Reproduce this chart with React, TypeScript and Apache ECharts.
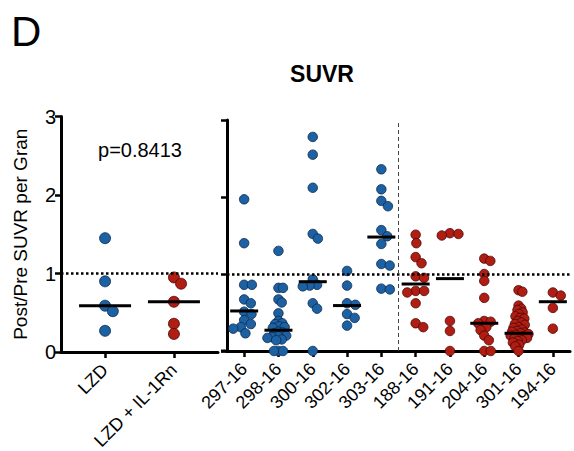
import React, { useEffect, useRef } from "react";
import * as echarts from "echarts";

// ---------- data ----------
const leftCategories = ["LZD", "LZD + IL-1Rn"];
const leftValues: number[][] = [
  [1.45, 0.9, 0.59, 0.52, 0.27],
  [0.95, 0.87, 0.64, 0.36, 0.23],
];
const leftMedians = [0.59, 0.64];

const rightCategories = [
  "297-16", "298-16", "300-16", "302-16", "303-16",
  "188-16", "191-16", "204-16", "301-16", "194-16",
];
const val297 = [1.97, 1.4, 0.86, 0.86, 0.67, 0.62, 0.51, 0.48, 0.4, 0.35, 0.31, 0.29, 0.23];
const val298 = [1.3, 0.82, 0.82, 0.67, 0.63, 0.49, 0.39, 0.36, 0.35, 0.32, 0.31, 0.3, 0.25, 0.24, 0.23, 0.2, 0.19, 0.18, 0.17, 0.15, 0.14, 0, 0, 0];
const val300 = [2.78, 2.55, 2.12, 1.52, 1.46, 0.93, 0.86, 0.85, 0.84, 0.62, 0.55, 0];
const val302 = [1.04, 0.85, 0.62, 0.6, 0.48, 0.43, 0.33];
const val303 = [2.36, 2.1, 1.95, 1.88, 1.57, 1.49, 1.39, 1.13, 1.11, 0.81, 0.8];
const val188 = [1.51, 1.4, 1.22, 1.14, 0.97, 0.95, 0.78, 0.78, 0.76, 0.62, 0.36, 0.31];
const val191 = [1.53, 1.52, 1.5, 0.39, 0.26, 0];
const val204 = [1.2, 1.17, 1.0, 0.91, 0.69, 0.39, 0.38, 0.36, 0.31, 0.27, 0.2, 0.14, 0, 0];
const val301 = [0.79, 0.77, 0.59, 0.55, 0.53, 0.5, 0.48, 0.45, 0.43, 0.42, 0.39, 0.37, 0.35, 0.34, 0.31, 0.3, 0.28, 0.26, 0.25, 0.24, 0.23, 0.22, 0.21, 0.2, 0.19, 0.18, 0.17, 0.16, 0.14, 0.13, 0.11, 0.08, 0.06, 0];
const val194 = [0.76, 0.72, 0.56, 0.29];
const rightValues = [val297, val298, val300, val302, val303, val188, val191, val204, val301, val194];
const rightMedians = [0.52, 0.27, 0.9, 0.59, 1.48, 0.87, 0.94, 0.36, 0.23, 0.64];
const rightGroupColor = ["blue", "blue", "blue", "blue", "blue", "red", "red", "red", "red", "red"];
const leftGroupColor = ["blue", "red"];

const yTicks = [0, 1, 2, 3];
const referenceLevel = 1;
const splitPosition = 4.5;
const pValueText = "p=0.8413";
const titleText = "SUVR";
const panelLetter = "D";
const yAxisTitle = "Post/Pre SUVR per Gran";

// ---------- styling / layout ----------
const FONT = "Liberation Sans, Arial, Helvetica, sans-serif";
const COLORS: Record<string, { fill: string; border: string }> = {
  blue: { fill: "#1d61a5", border: "#0b2848" },
  red: { fill: "#b01d12", border: "#4a0806" },
};
const LEFT_GRID = { left: 61, top: 116.5, width: 157, height: 235.5 };
const RIGHT_GRID = { left: 227, top: 120, width: 343, height: 231 };
const LEFT_X = { min: -0.64, max: 1.64 };
const RIGHT_X = { min: -0.5, max: 9.5 };

// beeswarm offsets (axis units) so dots do not pile on each other
function swarm(values: number[], pxPerY: number, pxPerX: number, maxHalf: number, startDist: number): number[] {
  let minDist = startDist;
  let result: number[] = [];
  while (minDist > 3) {
    const order = values.map((_, i) => i).sort((a, b) => values[b] - values[a]);
    const placed: { x: number; y: number }[] = [];
    const offs = new Array(values.length).fill(0);
    let widest = 0;
    for (const i of order) {
      const y = values[i] * pxPerY;
      const cands = [0];
      for (const p of placed) {
        const dy = Math.abs(p.y - y);
        if (dy < minDist) {
          const dx = Math.sqrt(minDist * minDist - dy * dy);
          cands.push(p.x + dx, p.x - dx);
        }
      }
      cands.sort((a, b) => Math.abs(a) - Math.abs(b));
      let chosen = 0;
      for (const c of cands) {
        if (placed.every((p) => Math.hypot(p.x - c, p.y - y) >= minDist - 1e-6)) {
          chosen = c;
          break;
        }
      }
      placed.push({ x: chosen, y });
      offs[i] = chosen / pxPerX;
      widest = Math.max(widest, Math.abs(chosen));
    }
    result = offs;
    if (widest <= maxHalf) break;
    minDist -= 0.4;
  }
  return result;
}

export default function App() {
  const ref = useRef<HTMLDivElement>(null);
  useEffect(() => {
    if (!ref.current) return;
    const chart = echarts.init(ref.current, undefined, { renderer: "svg" });

    const leftPxX = LEFT_GRID.width / (LEFT_X.max - LEFT_X.min);
    const rightPxX = RIGHT_GRID.width / (RIGHT_X.max - RIGHT_X.min);
    const leftPxY = LEFT_GRID.height / 3;
    const rightPxY = RIGHT_GRID.height / 3;

    const series: any[] = [];
    leftValues.forEach((vals, i) => {
      const offs = swarm(vals, leftPxY, leftPxX, 12, 9.5);
      const c = COLORS[leftGroupColor[i]];
      series.push({
        type: "scatter",
        xAxisIndex: 0,
        yAxisIndex: 0,
        symbolSize: 11,
        itemStyle: { color: c.fill, borderColor: c.border, borderWidth: 0.8, opacity: 1 },
        data: vals.map((v, k) => [i + offs[k], v]),
        z: 2,
      });
    });
    rightValues.forEach((vals, i) => {
      const offs = swarm(vals, rightPxY, rightPxX, 11, 8.5);
      const c = COLORS[rightGroupColor[i]];
      series.push({
        type: "scatter",
        xAxisIndex: 1,
        yAxisIndex: 1,
        symbolSize: 9.5,
        itemStyle: { color: c.fill, borderColor: c.border, borderWidth: 0.8, opacity: 1 },
        data: vals.map((v, k) => [i + offs[k], v]),
        z: 2,
      });
    });
    series.push({
      type: "scatter",
      xAxisIndex: 0,
      yAxisIndex: 0,
      symbol: "rect",
      symbolSize: [52, 3],
      itemStyle: { color: "#000", opacity: 1 },
      data: leftMedians.map((m, i) => [i, m]),
      z: 5,
      markLine: {
        silent: true,
        symbol: ["none", "none"],
        label: { show: false },
        lineStyle: { color: "#000", width: 2.5, type: [2.5, 2.5] },
        data: [{ yAxis: referenceLevel }],
      },
    });
    series.push({
      type: "scatter",
      xAxisIndex: 1,
      yAxisIndex: 1,
      symbol: "rect",
      symbolSize: [28, 3],
      itemStyle: { color: "#000", opacity: 1 },
      data: rightMedians.map((m, i) => [i, m]),
      z: 5,
      markLine: {
        silent: true,
        symbol: ["none", "none"],
        label: { show: false },
        data: [
          { yAxis: referenceLevel, lineStyle: { color: "#000", width: 2.5, type: [2.5, 2.5] } },
          { xAxis: splitPosition, lineStyle: { color: "#444", width: 1, type: [4, 3] } },
        ],
      },
    });

    const axisLineStyle = { color: "#000", width: 3 };
    const tickStyle = { color: "#000", width: 2.5 };
    const xLabel = {
      rotate: 45,
      fontSize: 18,
      color: "#000",
      fontFamily: FONT,
      margin: 15,
    };

    chart.setOption({
      animation: false,
      backgroundColor: "#fff",
      grid: [
        { ...LEFT_GRID, containLabel: false, outerBoundsMode: "none" },
        { ...RIGHT_GRID, containLabel: false, outerBoundsMode: "none" },
      ],
      xAxis: [
        {
          type: "value",
          gridIndex: 0,
          min: LEFT_X.min,
          max: LEFT_X.max,
          splitLine: { show: false },
          axisLine: { show: true, onZero: false, lineStyle: axisLineStyle },
          axisTick: { show: true, length: 6, lineStyle: tickStyle, customValues: leftCategories.map((_, i) => i) },
          axisLabel: {
            ...xLabel,
            customValues: leftCategories.map((_, i) => i),
            formatter: (v: number) => leftCategories[Math.round(v)] ?? "",
          },
        },
        {
          type: "value",
          gridIndex: 1,
          min: RIGHT_X.min,
          max: RIGHT_X.max,
          splitLine: { show: false },
          axisLine: { show: true, onZero: false, lineStyle: axisLineStyle },
          axisTick: { show: true, length: 6, lineStyle: tickStyle, customValues: rightCategories.map((_, i) => i) },
          axisLabel: {
            ...xLabel,
            customValues: rightCategories.map((_, i) => i),
            formatter: (v: number) => rightCategories[Math.round(v)] ?? "",
          },
        },
      ],
      yAxis: [
        {
          type: "value",
          gridIndex: 0,
          min: yTicks[0],
          max: yTicks[yTicks.length - 1],
          interval: 1,
          splitLine: { show: false },
          axisLine: { show: true, onZero: false, lineStyle: axisLineStyle },
          axisTick: { show: true, length: 6, lineStyle: tickStyle },
          axisLabel: { fontSize: 20, color: "#000", fontFamily: FONT, margin: 5 },
          name: yAxisTitle,
          nameLocation: "middle",
          nameGap: 31,
          nameTextStyle: { fontSize: 19, color: "#000", fontFamily: FONT },
        },
        {
          type: "value",
          gridIndex: 1,
          min: yTicks[0],
          max: yTicks[yTicks.length - 1],
          interval: 1,
          splitLine: { show: false },
          axisLine: { show: true, onZero: false, lineStyle: axisLineStyle },
          axisTick: { show: true, length: 6, lineStyle: tickStyle },
          axisLabel: { show: false },
        },
      ],
      graphic: [
        {
          type: "text",
          left: 11,
          top: 10,
          style: { text: panelLetter, font: `42px ${FONT}`, fill: "#000" },
        },
        {
          type: "text",
          x: 322,
          y: 74,
          style: {
            text: titleText,
            font: `bold 23px ${FONT}`,
            fill: "#000",
            textAlign: "center",
            textVerticalAlign: "middle",
          },
        },
        {
          type: "text",
          x: 140,
          y: 150,
          style: {
            text: pValueText,
            font: `20px ${FONT}`,
            fill: "#000",
            textAlign: "center",
            textVerticalAlign: "middle",
          },
        },
        {
          type: "line",
          shape: { x1: 221, y1: RIGHT_GRID.top + RIGHT_GRID.height, x2: RIGHT_GRID.left, y2: RIGHT_GRID.top + RIGHT_GRID.height },
          style: { stroke: "#000", lineWidth: 3 },
        },
      ],
      series,
    });
    return () => chart.dispose();
  }, []);
  return <div ref={ref} style={{ width: 574, height: 451, position: "absolute", left: 0, top: 0 }} />;
}
